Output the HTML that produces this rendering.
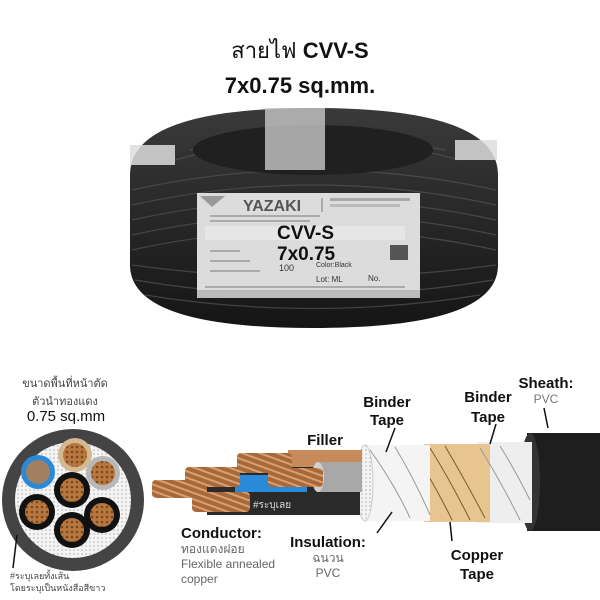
<!DOCTYPE html>
<html><head><meta charset="utf-8"><style>
html,body{margin:0;padding:0;background:#fff;width:600px;height:600px;overflow:hidden}
svg{display:block;font-family:"Liberation Sans","DejaVu Sans",sans-serif}
</style></head><body>
<svg width="600" height="600" viewBox="0 0 600 600">
<defs>
<pattern id="dots" width="4" height="4" patternUnits="userSpaceOnUse"><rect width="4" height="4" fill="#f4f4f4"/><circle cx="2" cy="2" r="0.6" fill="#888"/></pattern>
<pattern id="cu" width="5" height="5" patternUnits="userSpaceOnUse"><rect width="5" height="5" fill="#b8773e"/><circle cx="2" cy="2" r="1.3" fill="#7a4a20"/></pattern>
<pattern id="str" width="6" height="6" patternUnits="userSpaceOnUse" patternTransform="rotate(20)"><rect width="6" height="6" fill="#a9683a"/><rect width="6" height="2" fill="#d9a070"/></pattern>
<linearGradient id="coil" x1="0" y1="0" x2="0" y2="1"><stop offset="0" stop-color="#3a3a3a"/><stop offset="1" stop-color="#151515"/></linearGradient>
</defs>
<text x="300" y="58" font-size="22" text-anchor="middle" fill="#111">สายไฟ <tspan font-weight="bold">CVV-S</tspan></text>
<text x="300" y="93" font-size="22" font-weight="bold" text-anchor="middle" fill="#111">7x0.75 sq.mm.</text>

<path d="M130 175 Q130 108 313 108 Q498 108 498 175 L498 265 Q498 328 313 328 Q130 328 130 265 Z" fill="url(#coil)"/>
<g stroke="#555" stroke-width="1.2" fill="none" opacity="0.7">
<path d="M132 190 Q313 150 496 190"/><path d="M132 205 Q313 165 496 205"/><path d="M132 220 Q313 180 496 220"/><path d="M132 235 Q313 195 496 235"/><path d="M132 250 Q313 210 496 250"/><path d="M132 265 Q313 290 496 265"/><path d="M135 280 Q313 310 493 280"/><path d="M145 295 Q313 322 480 295"/>
<path d="M175 160 Q313 120 460 160"/><path d="M190 150 Q313 125 445 150"/>
</g>
<ellipse cx="313" cy="150" rx="120" ry="25" fill="#202020"/>
<rect x="130" y="145" width="45" height="20" fill="#ddd" opacity="0.85"/>
<rect x="265" y="108" width="60" height="62" fill="#c8c8c8" opacity="0.8"/>
<rect x="455" y="140" width="42" height="20" fill="#ddd" opacity="0.85"/>
<rect x="197" y="193" width="223" height="105" fill="#dcdcdc"/>
<rect x="197" y="290" width="223" height="8" fill="#bbb"/>
<polygon points="200,196 225,196 212,207" fill="#999"/>
<text x="243" y="211" font-size="16" font-weight="bold" fill="#555">YAZAKI</text>
<line x1="322" y1="198" x2="322" y2="212" stroke="#777"/>
<rect x="330" y="198" width="80" height="3" fill="#aaa"/><rect x="330" y="204" width="70" height="3" fill="#bbb"/>
<rect x="210" y="215" width="110" height="2" fill="#aaa"/><rect x="210" y="220" width="100" height="2" fill="#aaa"/>
<rect x="205" y="226" width="200" height="14" fill="#e6e6e6"/>
<text x="277" y="239" font-size="19" font-weight="bold" fill="#111">CVV-S</text>
<text x="277" y="260" font-size="19" font-weight="bold" fill="#111">7x0.75</text>
<text x="279" y="271" font-size="9" fill="#333">100</text>
<text x="316" y="267" font-size="7" fill="#333">Color:Black</text>
<text x="316" y="282" font-size="8" fill="#333">Lot: ML</text>
<text x="368" y="281" font-size="8" fill="#333">No.</text>
<rect x="390" y="245" width="18" height="15" fill="#555"/>
<rect x="210" y="250" width="30" height="2" fill="#aaa"/><rect x="210" y="260" width="40" height="2" fill="#aaa"/><rect x="210" y="270" width="50" height="2" fill="#aaa"/><rect x="205" y="286" width="200" height="2" fill="#aaa"/>

<text x="65" y="387" font-size="11" text-anchor="middle" fill="#444">ขนาดพื้นที่หน้าตัด</text>
<text x="65" y="405" font-size="11" text-anchor="middle" fill="#444">ตัวนำทองแดง</text>
<text x="66" y="421" font-size="15" text-anchor="middle" fill="#111">0.75 sq.mm</text>
<circle cx="73" cy="500" r="71" fill="#444"/>
<circle cx="73" cy="500" r="58" fill="url(#dots)"/>
<circle cx="38" cy="472" r="17" fill="#2a8ad8"/><circle cx="38" cy="472" r="12" fill="#a08060"/>
<circle cx="75" cy="455" r="17" fill="#d4b890"/><circle cx="75" cy="455" r="12" fill="url(#cu)"/>
<circle cx="103" cy="473" r="17" fill="#b8b8b8"/><circle cx="103" cy="473" r="12" fill="url(#cu)"/>
<circle cx="72" cy="490" r="18" fill="#111"/><circle cx="72" cy="490" r="12" fill="url(#cu)"/>
<circle cx="37" cy="512" r="18" fill="#111"/><circle cx="37" cy="512" r="12" fill="url(#cu)"/>
<circle cx="102" cy="515" r="18" fill="#111"/><circle cx="102" cy="515" r="12" fill="url(#cu)"/>
<circle cx="72" cy="530" r="18" fill="#111"/><circle cx="72" cy="530" r="12" fill="url(#cu)"/>
<line x1="17" y1="535" x2="13" y2="568" stroke="#111" stroke-width="1.5"/>
<text x="10" y="579" font-size="9" fill="#444">#ระบุเลยทั้งเส้น</text>
<text x="10" y="591" font-size="9" fill="#444">โดยระบุเป็นหนังสือสีขาว</text>

<rect x="527" y="433" width="75" height="98" fill="#1e1e1e"/>
<ellipse cx="530" cy="482" rx="10" ry="49" fill="#333"/>
<rect x="477" y="442" width="55" height="81" fill="#eeeeee"/>
<rect x="424" y="444" width="66" height="78" fill="#e8c48f"/>
<g stroke="#7a5a30" stroke-width="1" fill="none"><path d="M430 448 Q450 480 470 520"/><path d="M445 446 Q465 480 485 518"/><path d="M425 470 Q440 495 452 520"/></g>
<rect x="362" y="445" width="68" height="76" fill="#f4f4f4"/>
<g stroke="#999" stroke-width="1" fill="none"><path d="M370 450 Q395 485 410 518"/><path d="M395 447 Q415 480 430 515"/><path d="M480 448 Q500 480 520 520"/><path d="M500 446 Q515 470 530 500"/></g>
<ellipse cx="365" cy="483" rx="8" ry="38" fill="url(#dots)" stroke="#ccc"/>
<rect x="288" y="450" width="74" height="17" fill="#c98a5a"/>
<rect x="207" y="467" width="153" height="48" fill="#2a2a2a"/>
<rect x="317" y="462" width="45" height="30" fill="#a8a8a8"/>
<ellipse cx="318" cy="477" rx="6" ry="15" fill="#d0d0d0"/>
<rect x="235" y="475" width="72" height="17" fill="#2a8ad8"/>
<rect x="152" y="480" width="55" height="18" rx="4" fill="url(#str)"/>
<rect x="185" y="467" width="55" height="20" rx="4" fill="url(#str)"/>
<rect x="237" y="453" width="55" height="20" rx="4" fill="url(#str)"/>
<rect x="268" y="468" width="55" height="19" rx="4" fill="url(#str)"/>
<rect x="192" y="492" width="58" height="20" rx="4" fill="url(#str)"/>
<text x="253" y="508" font-size="10" fill="#ddd">#ระบุเลย</text>

<g font-weight="bold" fill="#111" font-size="15" text-anchor="middle">
<text x="325" y="445">Filler</text>
<text x="387" y="407">Binder</text><text x="387" y="425">Tape</text>
<text x="488" y="402">Binder</text><text x="488" y="422">Tape</text>
<text x="546" y="388">Sheath:</text>
<text x="477" y="560">Copper</text><text x="477" y="579">Tape</text>
<text x="181" y="538" text-anchor="start">Conductor:</text>
<text x="328" y="547">Insulation:</text>
</g>
<text x="546" y="403" font-size="12" fill="#777" text-anchor="middle">PVC</text>
<g font-size="12" fill="#666">
<text x="181" y="553">ทองแดงฝอย</text>
<text x="181" y="568">Flexible annealed</text>
<text x="181" y="583">copper</text>
<text x="328" y="562" text-anchor="middle">ฉนวน</text>
<text x="328" y="577" text-anchor="middle">PVC</text>
</g>
<g stroke="#111" stroke-width="1.5">
<line x1="395" y1="428" x2="386" y2="452"/>
<line x1="496" y1="424" x2="490" y2="444"/>
<line x1="544" y1="408" x2="548" y2="428"/>
<line x1="392" y1="512" x2="377" y2="533"/>
<line x1="450" y1="522" x2="452" y2="541"/>
</g>
</svg>
</body></html>
